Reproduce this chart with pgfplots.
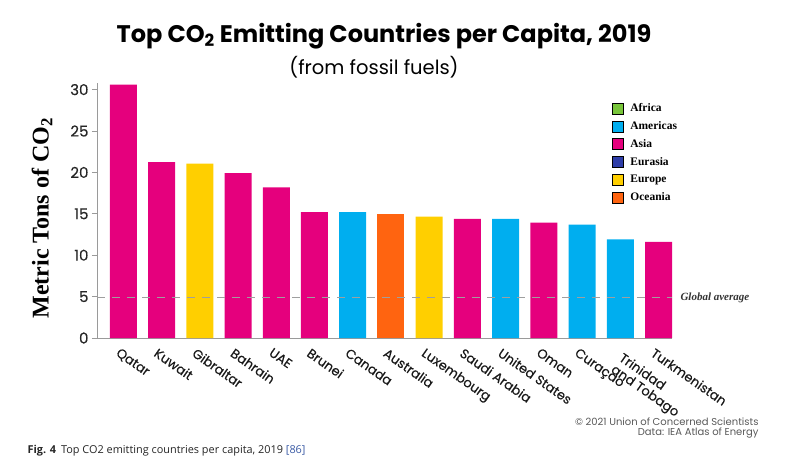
\documentclass[border=0pt]{standalone}
\usepackage{fontspec}
\setmainfont{Liberation Serif}
\newfontfamily\gfont{Poppins}
\newfontfamily\gmed{Poppins}[FakeBold=0.3]
\newfontfamily\capfont{Open Sans}
\usepackage{pgfplots}
\pgfplotsset{compat=1.18}
\definecolor{asia}{HTML}{E5007D}
\definecolor{amer}{HTML}{00AEEF}
\definecolor{euro}{HTML}{FFCF00}
\definecolor{ocea}{HTML}{FF6410}
\definecolor{afri}{HTML}{78C53A}
\definecolor{eura}{HTML}{2E3DA8}
\definecolor{axgray}{HTML}{9A9A9A}
\definecolor{capblue}{HTML}{3B5BA5}
\begin{document}
\begin{tikzpicture}
\path[use as bounding box] (0pt,0pt) rectangle (800pt,471pt);
\node[font=\gfont\bfseries\fontsize{24}{24}\selectfont] at (384pt,435pt) {Top CO\textsubscript{2} Emitting Countries per Capita, 2019};
\node[font=\gfont\fontsize{19.5}{19.5}\selectfont] at (374pt,404pt) {(from fossil fuels)};
\begin{axis}[
  at={(97pt,133pt)}, anchor=south west,
  scale only axis, width=575pt, height=255pt,
  xmin=-0.69, xmax=14.353, ymin=0, ymax=30.8,
  axis x line*=bottom, axis y line*=left,
  axis line style={draw=axgray, line width=0.9pt},
  clip=false,
  xtick={0,...,12,14},
  xticklabels={Qatar,Kuwait,Gibraltar,Bahrain,UAE,Brunei,Canada,Australia,Luxembourg,Saudi Arabia,United States,Oman,Curaçao,Turkmenistan},
  extra x ticks={13},
  extra x tick labels={{Trinidad\\and Tobago}},
  extra x tick style={xticklabel style={xshift=8pt}},
  major x tick style={draw=none},
  ytick={0,5,...,30},
  tick align=outside, major tick length=5pt,
  major y tick style={draw=axgray, line width=0.8pt},
  /pgf/number format/assume math mode=true,
  yticklabel style={font=\gmed\fontsize{15}{15}\selectfont, text=black!85},
  xticklabel style={font=\gmed\fontsize{13}{14}\selectfont, text=black!90, rotate=-35, anchor=north west, align=left, inner sep=1pt, xshift=-1pt, yshift=-4pt},
  every axis y label/.style={at={(rel axis cs:0,0.47)}, xshift=-55pt, rotate=90, anchor=center},
  ylabel={Metric Tons of CO\textsubscript{2}},
  ylabel style={font=\bfseries\fontsize{24}{24}\selectfont},
  legend style={at={(rel axis cs:0.89,0.931)}, anchor=north west, draw=none, fill=none,
     font=\bfseries\fontsize{11.5}{12}\selectfont, row sep=6.4pt, cells={anchor=west},
     nodes={inner sep=0pt}},
  legend image code/.code={\fill[#1] (0pt,-5.5pt) rectangle (11pt,5.5pt); \path (18pt,0pt);},
]
\addplot[ybar, bar width=27pt, fill=asia, draw=none, forget plot] coordinates {(0,30.6) (1,21.25) (3,19.9) (4,18.2) (5,15.2) (9,14.4) (11,13.95) (14,11.6)};
\addplot[ybar, bar width=27pt, fill=amer, draw=none, forget plot] coordinates {(6,15.2) (10,14.4) (12,13.7) (13,11.9)};
\addplot[ybar, bar width=27pt, fill=euro, draw=none, forget plot] coordinates {(2,21.05) (8,14.65)};
\addplot[ybar, bar width=27pt, fill=ocea, draw=none, forget plot] coordinates {(7,15.0)};
\addplot[draw=gray!75, line width=0.9pt, dash pattern=on 8pt off 7pt, forget plot] coordinates {(-0.69,4.9) (14.353,4.9)};
\node[anchor=west, font=\bfseries\itshape\fontsize{11}{11}\selectfont, text=black!80] at (axis cs:14.353,4.9) {\hspace{5pt}Global average};
\addlegendimage{fill=afri}\addlegendentry{Africa}
\addlegendimage{fill=amer}\addlegendentry{Americas}
\addlegendimage{fill=asia}\addlegendentry{Asia}
\addlegendimage{fill=eura}\addlegendentry{Eurasia}
\addlegendimage{fill=euro}\addlegendentry{Europe}
\addlegendimage{fill=ocea}\addlegendentry{Oceania}
\end{axis}
\node[anchor=east, font=\gfont\fontsize{10}{10}\selectfont, text=black!65] at (762pt,49pt) {© 2021 Union of Concerned Scientists};
\node[anchor=east, font=\gfont\fontsize{10}{10}\selectfont, text=black!65] at (762pt,38pt) {Data: IEA Atlas of Energy};
\node[anchor=west, font=\capfont\fontsize{10.9}{10.9}\selectfont, text=black!85] at (24pt,20pt) {\textbf{Fig. 4}\hspace{5pt}Top CO2 emitting countries per capita, 2019 \textcolor{capblue}{[86]}};
\end{tikzpicture}
\end{document}
